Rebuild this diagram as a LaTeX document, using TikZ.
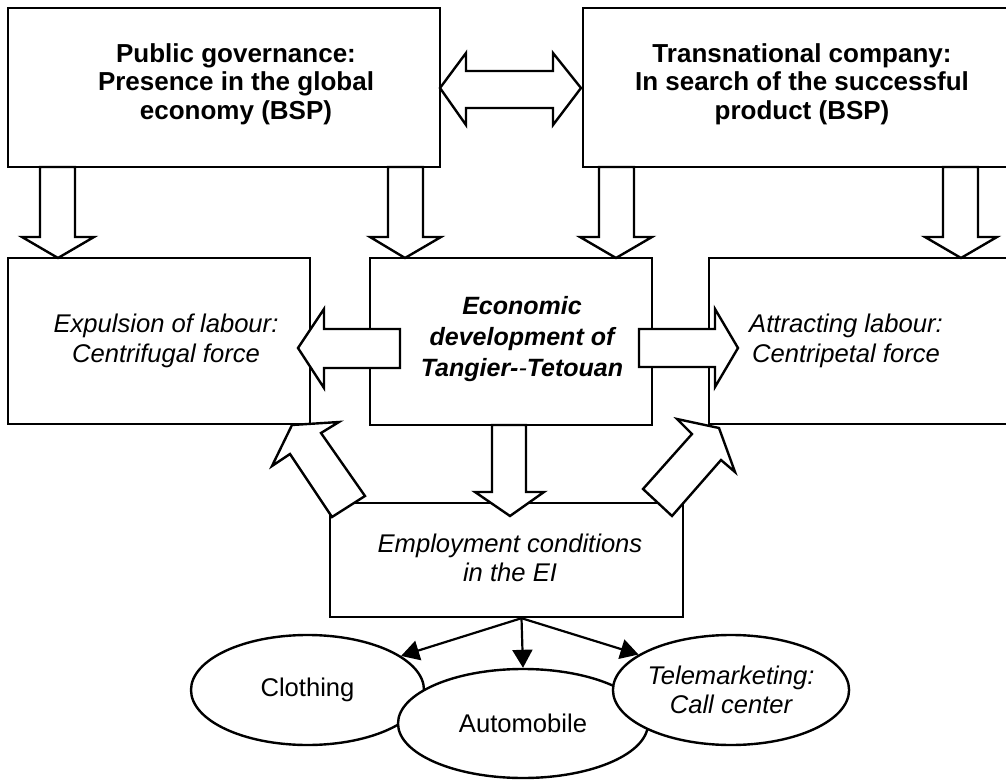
\documentclass[tikz,border=0pt]{standalone}
\usepackage{fontspec}
\setmainfont{Liberation Sans}
\usetikzlibrary{shapes.geometric,arrows.meta}

\tikzset{
  box/.style={draw=drawColor,line width=1.2pt,rectangle,inner sep=0pt},
  boxtext/.style={text=drawColor,inner sep=0pt,align=center,font=\fontsize{12.8}{14.75}\selectfont},
  headtext/.style={boxtext,font=\fontsize{13}{14.25}\selectfont\bfseries},
  oval/.style={draw=drawColor,line width=1.2pt,ellipse,inner sep=0pt,fill=fillColor,align=center,font=\fontsize{12.8}{14.75}\selectfont},
  blockarrow/.style={draw=drawColor,fill=fillColor,line width=1.2pt,line join=miter},
  thinarrow/.style={draw=drawColor,line width=1.1pt,-{Triangle[length=9pt,width=10pt]}}
}

\begin{document}
\begin{tikzpicture}[x=0.5pt,y=-0.5pt]
\definecolor{fillColor}{RGB}{255,255,255}
\definecolor{drawColor}{RGB}{0,0,0}
\path[use as bounding box,fill=fillColor] (0,0) rectangle (1006,780);
\begin{scope}
\path[clip] (0,0) rectangle (1006,780);

\node[box,minimum width=216pt,minimum height=79.5pt] (pub) at (224,87.5) {};

\node[box,minimum width=219pt,minimum height=79.5pt] (trans) at (802,87.5) {};

\node[box,minimum width=151pt,minimum height=83pt] (expel) at (159,341) {};

\node[box,minimum width=141pt,minimum height=83.5pt] (econ) at (511,341.5) {};

\node[box,minimum width=150.5pt,minimum height=83pt] (attr) at (859.5,341) {};

\node[box,minimum width=176.5pt,minimum height=57pt] (empl) at (506.5,560) {};

\node[headtext] (pub-txt) at (236,84) {Public governance:\\ Presence in the global\\ economy (BSP)};

\node[headtext] (trans-txt) at (802,84) {Transnational company:\\ In search of the successful\\ product (BSP)};

\node[boxtext] (expel-txt) at (166,341) {\itshape Expulsion of labour:\\ \itshape Centrifugal force};

\node[boxtext,font=\fontsize{12.5}{15.5}\selectfont] (econ-txt) at (522,339) {\bfseries\itshape Economic\\ \bfseries\itshape development of\\ \bfseries\itshape Tangier-{\mdseries -}Tetouan};

\node[boxtext] (attr-txt) at (846,341) {\itshape Attracting labour:\\ \itshape Centripetal force};

\node[boxtext] (empl-txt) at (510,558) {\itshape Employment conditions\\ \itshape in the EI};
\end{scope}
\begin{scope}
\path[clip] (0,0) rectangle (1006,780);

% double arrow between the two actors
\path[blockarrow] (440,88) -- (466,53) -- (466,71) -- (553,71) -- (553,53) -- (581,88) -- (553,125) -- (553,108) -- (466,108) -- (466,125) -- cycle;

% down arrows from the top boxes
\path[blockarrow] ( 40,167) -- ( 75,167) -- ( 75,237) -- ( 94,237) -- ( 58,258) -- ( 22,237) -- ( 40,237) -- cycle;

\path[blockarrow] (388,167) -- (423,167) -- (423,237) -- (441,237) -- (405,258) -- (370,237) -- (388,237) -- cycle;

\path[blockarrow] (599,167) -- (634,167) -- (634,237) -- (652,237) -- (616,258) -- (580,237) -- (599,237) -- cycle;

\path[blockarrow] (943,167) -- (978,167) -- (978,237) -- (997,237) -- (961,258) -- (925,237) -- (943,237) -- cycle;

% side arrows from the centre box
\path[blockarrow] (400,329) -- (324,329) -- (324,309) -- (298,348) -- (324,388) -- (324,368) -- (400,368) -- cycle;

\path[blockarrow] (639,329) -- (715,329) -- (715,309) -- (738,348) -- (715,387) -- (715,367) -- (639,367) -- cycle;

% arrows to and from the employment box
\path[blockarrow] (492,425) -- (526,425) -- (526,492) -- (544,492) -- (510,516) -- (475,492) -- (492,492) -- cycle;

\path[blockarrow] (332,517) -- (290,454) -- (272,466) -- (292,425) -- (339,422) -- (321,433) -- (365,496) -- cycle;

\path[blockarrow] (643,489) -- (692,434) -- (677,419) -- (719,428) -- (735,472) -- (721,460) -- (672,516) -- cycle;
\end{scope}
\begin{scope}
\path[clip] (0,0) rectangle (1006,780);

\node[oval,minimum width=116.5pt,minimum height=55pt] (cloth) at (307.5,690) {Clothing};

\node[oval,minimum width=125pt,minimum height=54.5pt] (automob) at (523,723.5) {Automobile};

\node[oval,minimum width=118pt,minimum height=55pt] (tele) at (731,690) {\itshape Telemarketing:\\ \itshape Call center};

\draw[thinarrow] ([xshift=7.5pt]empl.south) -- (cloth.20);

\draw[thinarrow] ([xshift=7.5pt]empl.south) -- (automob.north);

\draw[thinarrow] ([xshift=7.5pt]empl.south) -- (tele.159);
\end{scope}
\end{tikzpicture}
\end{document}
